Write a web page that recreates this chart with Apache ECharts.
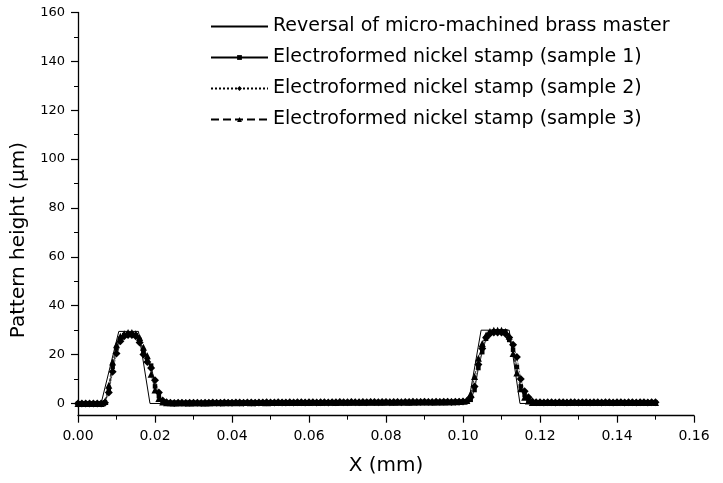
<!DOCTYPE html>
<html>
<head>
<meta charset="utf-8">
<script src="https://cdn.jsdelivr.net/npm/echarts@6/dist/echarts.min.js"></script>
<style>
html,body{margin:0;padding:0;background:#fff;}
#chart{width:723px;height:483px;}
</style>
</head>
<body>
<div id="chart"></div>
<script>
// X positions (mm) of the measured stamp profiles
const xValues = [
  0.000,0.001,0.002,0.003,0.004,0.005,0.006,0.007,0.008,0.009,
  0.010,0.011,0.012,0.013,0.014,0.015,0.016,0.017,0.018,0.019,
  0.020,0.021,0.022,0.023,0.024,0.025,0.026,0.027,0.028,0.029,
  0.030,0.031,0.032,0.033,0.034,0.035,0.036,0.037,0.038,0.039,
  0.040,0.041,0.042,0.043,0.044,0.045,0.046,0.047,0.048,0.049,
  0.050,0.051,0.052,0.053,0.054,0.055,0.056,0.057,0.058,0.059,
  0.060,0.061,0.062,0.063,0.064,0.065,0.066,0.067,0.068,0.069,
  0.070,0.071,0.072,0.073,0.074,0.075,0.076,0.077,0.078,0.079,
  0.080,0.081,0.082,0.083,0.084,0.085,0.086,0.087,0.088,0.089,
  0.090,0.091,0.092,0.093,0.094,0.095,0.096,0.097,0.098,0.099,
  0.100,0.101,0.102,0.103,0.104,0.105,0.106,0.107,0.108,0.109,
  0.110,0.111,0.112,0.113,0.114,0.115,0.116,0.117,0.118,0.119,
  0.120,0.121,0.122,0.123,0.124,0.125,0.126,0.127,0.128,0.129,
  0.130,0.131,0.132,0.133,0.134,0.135,0.136,0.137,0.138,0.139,
  0.140,0.141,0.142,0.143,0.144,0.145,0.146,0.147,0.148,0.149,
  0.150
];

// Reversal of micro-machined brass master (profile corners)
const masterX = [0, 0.006, 0.0106, 0.0157, 0.0187, 0.1014, 0.1047, 0.1120, 0.1148, 0.150];
const masterY = [0, 0, 29.5, 29.5, 0, 0, 30, 30, 0, 0];

const sample1 = [
  0,0,0,0,0,0,0,0.5,5.5,15,
  22.5,26.5,28,28.5,28.5,28,26,21.5,18,15.5,
  7,3,0.8,0.3,0.2,0.3,0.3,0.2,0.3,0.3,
  0.3,0.2,0.3,0.3,0.4,0.3,0.3,0.4,0.3,0.4,
  0.4,0.3,0.4,0.4,0.3,0.4,0.4,0.3,0.4,0.4,
  0.4,0.4,0.3,0.4,0.4,0.5,0.4,0.4,0.5,0.4,
  0.5,0.4,0.4,0.5,0.4,0.5,0.5,0.4,0.5,0.5,
  0.5,0.5,0.4,0.5,0.5,0.6,0.5,0.5,0.6,0.5,
  0.6,0.5,0.5,0.6,0.5,0.6,0.6,0.5,0.6,0.6,
  0.6,0.6,0.5,0.6,0.6,0.7,0.6,0.6,0.7,0.7,
  0.7,0.8,1.5,5.5,14.5,21,26.5,29,29.5,29.5,
  29.5,29.5,26,22,15,7,3.5,1.5,0.5,0.4,
  0.4,0.4,0.5,0.4,0.4,0.5,0.4,0.4,0.5,0.4,
  0.4,0.5,0.4,0.4,0.5,0.4,0.4,0.5,0.4,0.4,
  0.5,0.4,0.4,0.5,0.4,0.4,0.5,0.4,0.4,0.5,
  0.4
];

const sample2 = [
  0,0,0,0,0,0,0,0.3,4.5,13,
  20.5,25.5,27.5,28,28,27.5,25,20,17,14.5,
  9.5,4.5,1.2,0.5,0.3,0.2,0.3,0.3,0.2,0.3,
  0.3,0.3,0.2,0.3,0.3,0.4,0.3,0.3,0.4,0.3,
  0.3,0.4,0.4,0.3,0.4,0.4,0.3,0.4,0.4,0.5,
  0.4,0.4,0.5,0.4,0.4,0.5,0.4,0.5,0.5,0.4,
  0.5,0.5,0.4,0.5,0.5,0.4,0.5,0.5,0.6,0.5,
  0.5,0.6,0.5,0.5,0.6,0.5,0.6,0.6,0.5,0.6,
  0.6,0.5,0.6,0.6,0.5,0.6,0.6,0.7,0.6,0.6,
  0.7,0.6,0.6,0.7,0.6,0.7,0.7,0.6,0.7,0.7,
  0.8,1,2.5,7,16,22.5,27,28.5,29,29,
  29,28.5,27,24,19,10,5,2.5,0.8,0.5,
  0.5,0.4,0.5,0.5,0.4,0.5,0.5,0.4,0.5,0.5,
  0.4,0.5,0.5,0.4,0.5,0.5,0.4,0.5,0.5,0.4,
  0.5,0.5,0.4,0.5,0.5,0.4,0.5,0.5,0.4,0.5,
  0.5
];

const sample3 = [
  0,0,0,0,0,0,0,0.8,7.5,17,
  24,27.5,28.5,29,29,28.5,27,23,19.5,12,
  5.5,2,0.6,0.3,0.3,0.2,0.3,0.3,0.3,0.2,
  0.3,0.3,0.3,0.2,0.3,0.3,0.4,0.3,0.3,0.4,
  0.3,0.4,0.3,0.4,0.4,0.3,0.4,0.4,0.4,0.3,
  0.4,0.4,0.4,0.5,0.4,0.4,0.5,0.4,0.4,0.5,
  0.4,0.5,0.5,0.4,0.5,0.5,0.5,0.4,0.5,0.5,
  0.5,0.5,0.6,0.5,0.5,0.5,0.6,0.5,0.6,0.5,
  0.6,0.6,0.5,0.6,0.6,0.6,0.5,0.6,0.6,0.7,
  0.6,0.7,0.6,0.6,0.7,0.6,0.7,0.7,0.7,0.8,
  0.9,1.2,4,11,18.5,24.5,28,29.5,30,30,
  30,29.5,27.5,20.5,12.5,6,2.5,1,0.4,0.4,
  0.4,0.5,0.4,0.4,0.4,0.5,0.4,0.4,0.4,0.5,
  0.4,0.4,0.4,0.5,0.4,0.4,0.4,0.5,0.4,0.4,
  0.4,0.5,0.4,0.4,0.4,0.5,0.4,0.4,0.4,0.5,
  0.4
];

const seriesNames = [
  'Reversal of micro-machined brass master',
  'Electroformed nickel stamp (sample 1)',
  'Electroformed nickel stamp (sample 2)',
  'Electroformed nickel stamp (sample 3)'
];
const yMajorTicks = [0, 20, 40, 60, 80, 100, 120, 140, 160];
const yMinorTicks = [10, 30, 50, 70, 90, 110, 130, 150];

const FONT = 'DejaVu Sans';
const pair = (xs, ys) => xs.map((x, i) => [x, ys[i]]);

const chart = echarts.init(document.getElementById('chart'), null, {renderer: 'canvas'});
chart.setOption({
  animation: false,
  backgroundColor: '#ffffff',
  grid: {left: 78, right: 29, top: 12.5, bottom: 67.3, containLabel: false},
  legend: {
    orient: 'vertical',
    left: 205,
    top: 12,
    itemWidth: 57,
    itemHeight: 6,
    itemGap: 12,
    textStyle: {fontFamily: FONT, fontSize: 19, color: '#000'},
    data: [
      {name: seriesNames[0], itemStyle: {opacity: 0}},
      seriesNames[1], seriesNames[2], seriesNames[3]
    ]
  },
  xAxis: {
    type: 'value',
    min: 0, max: 0.16, interval: 0.02,
    name: 'X (mm)',
    nameLocation: 'middle',
    nameGap: 40,
    nameTextStyle: {fontFamily: FONT, fontSize: 20, color: '#000'},
    axisLine: {onZero: false, lineStyle: {color: '#000', width: 1.3}},
    axisTick: {show: true, length: 7, lineStyle: {color: '#000', width: 1.2}},
    minorTick: {show: true, splitNumber: 2, length: 4, lineStyle: {color: '#000', width: 1}},
    splitLine: {show: false},
    axisLabel: {fontFamily: FONT, fontSize: 14, color: '#000', margin: 14,
      formatter: v => v.toFixed(2)}
  },
  yAxis: [{
    type: 'value',
    min: -5, max: 160,
    name: 'Pattern height (μm)',
    nameLocation: 'middle',
    nameGap: 44,
    nameTextStyle: {fontFamily: FONT, fontSize: 20, color: '#000', padding: [0, 52, 0, 0]},
    axisLine: {show: true, onZero: false, lineStyle: {color: '#000', width: 1.3}},
    axisTick: {show: true, length: 7, customValues: yMajorTicks, lineStyle: {color: '#000', width: 1.2}},
    splitLine: {show: false},
    axisLabel: {fontFamily: FONT, fontSize: 13, color: '#000', margin: 13, customValues: yMajorTicks}
  }, {
    type: 'value',
    position: 'left',
    min: -5, max: 160,
    axisLine: {show: false},
    axisTick: {show: true, length: 4, customValues: yMinorTicks, lineStyle: {color: '#000', width: 1}},
    axisLabel: {show: false},
    splitLine: {show: false}
  }],
  series: [{
    name: seriesNames[0],
    type: 'line',
    data: pair(masterX, masterY),
    symbol: 'none',
    lineStyle: {color: '#000', width: 1},
    itemStyle: {color: '#000'},
    z: 5
  }, {
    name: seriesNames[1],
    type: 'line',
    data: pair(xValues, sample1),
    symbol: 'rect',
    symbolSize: 4.5,
    lineStyle: {color: '#000', width: 0.8},
    itemStyle: {color: '#000'}
  }, {
    name: seriesNames[2],
    type: 'line',
    data: pair(xValues, sample2),
    symbol: 'diamond',
    symbolSize: 8,
    lineStyle: {color: '#000', width: 0.8, type: 'dotted'},
    itemStyle: {color: '#000'}
  }, {
    name: seriesNames[3],
    type: 'line',
    data: pair(xValues, sample3),
    symbol: 'triangle',
    symbolSize: 7,
    lineStyle: {color: '#000', width: 0.8, type: 'dashed'},
    itemStyle: {color: '#000'}
  }]
});
</script>
</body>
</html>
